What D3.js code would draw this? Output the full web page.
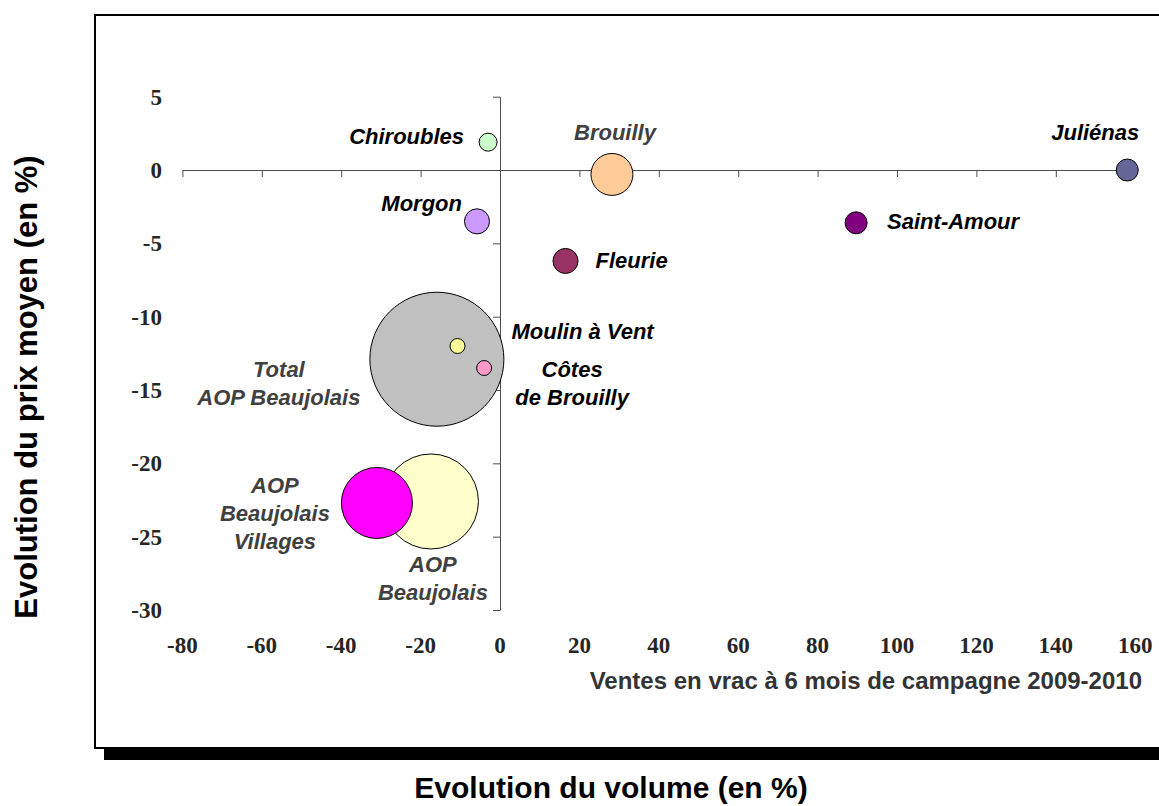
<!DOCTYPE html>
<html>
<head>
<meta charset="utf-8">
<script src="https://cdn.jsdelivr.net/npm/d3@7"></script>
<style>
    body { margin: 0; background: #fff; }
    svg { display: block; }
    .tick-label { font-family: "Liberation Serif", "Times New Roman", serif; font-weight: bold; font-size: 23px; fill: #262626; }
    .bubble-label { font-family: "Liberation Sans", Arial, sans-serif; font-weight: bold; font-style: italic; font-size: 22px; }
    .title { font-family: "Liberation Sans", Arial, sans-serif; font-weight: bold; fill: #000; }
</style>
</head>
<body>
<svg id="chart" width="1159" height="806"></svg>
<script>
// series values
var names = ['Chiroubles', 'Brouilly', 'Juliénas', 'Morgon', 'Saint-Amour', 'Fleurie',
    'Total AOP Beaujolais', 'Moulin à Vent', 'Côtes de Brouilly', 'AOP Beaujolais', 'AOP Beaujolais Villages'];
var volumeChange = [-3.0, 28.2, 158.0, -5.8, 89.7, 16.5, -15.9, -10.7, -4.0, -17.4, -31.0];
var priceChange = [1.9, -0.3, 0.0, -3.5, -3.6, -6.2, -12.9, -12.0, -13.5, -22.6, -22.7];
var bulkShare = [1.8, 9.8, 2.7, 3.5, 2.7, 3.5, 100, 1.25, 1.25, 50.3, 28.1];
var xTicks = [-80, -60, -40, -20, 0, 20, 40, 60, 80, 100, 120, 140, 160];
var yTicks = [5, 0, -5, -10, -15, -20, -25, -30];

var colors = ['#ccffcc', '#ffcc99', '#666699', '#cc99ff', '#800080', '#993366',
    '#c0c0c0', '#ffff99', '#ff99cc', '#ffffcc', '#ff00ff'];

// where each data label sits relative to its bubble
var labelLayout = {
    'Chiroubles':              { lines: ['Chiroubles'], anchor: 'end', dx: -24, dy: 2, fill: '#000' },
    'Brouilly':                { lines: ['Brouilly'], anchor: 'middle', dx: 3, dy: -34, fill: '#404040' },
    'Juliénas':                { lines: ['Juliénas'], anchor: 'end', dx: 12, dy: -30, fill: '#000' },
    'Morgon':                  { lines: ['Morgon'], anchor: 'end', dx: -15, dy: -10, fill: '#000' },
    'Saint-Amour':             { lines: ['Saint-Amour'], anchor: 'start', dx: 31, dy: 6, fill: '#000' },
    'Fleurie':                 { lines: ['Fleurie'], anchor: 'start', dx: 30, dy: 7, fill: '#000' },
    'Total AOP Beaujolais':    { lines: ['Total', 'AOP Beaujolais'], anchor: 'middle', dx: -158, dy: 18, fill: '#404040' },
    'Moulin à Vent':           { lines: ['Moulin à Vent'], anchor: 'start', dx: 54, dy: -7, fill: '#000' },
    'Côtes de Brouilly':       { lines: ['Côtes', 'de Brouilly'], anchor: 'middle', dx: 88, dy: 9, fill: '#000' },
    'AOP Beaujolais':          { lines: ['AOP', 'Beaujolais'], anchor: 'middle', dx: 2, dy: 71, fill: '#404040' },
    'AOP Beaujolais Villages': { lines: ['AOP', 'Beaujolais', 'Villages'], anchor: 'middle', dx: -102, dy: -10, fill: '#404040' }
};

var svg = d3.select('#chart');

// frame with drop shadow
svg.append('rect')
    .attr('x', 104).attr('y', 24)
    .attr('width', 1100).attr('height', 736)
    .attr('fill', '#000');
svg.append('rect')
    .attr('x', 95).attr('y', 15)
    .attr('width', 1100).attr('height', 733)
    .attr('fill', '#fff')
    .attr('stroke', '#000')
    .attr('stroke-width', 2);

var x = d3.scaleLinear().domain([-80, 160]).range([182.4, 1135.2]);
var y = d3.scaleLinear().domain([-30, 5]).range([610, 96.7]);
var r = d3.scaleSqrt().domain([0, 100]).range([0, 67]);

var xAxis = d3.axisBottom(x).tickValues(xTicks).tickSize(7).tickSizeOuter(0).tickFormat('');
var yAxis = d3.axisLeft(y).tickValues(yTicks).tickSize(7).tickSizeOuter(0).tickFormat('');

var gX = svg.append('g')
    .attr('transform', 'translate(0,' + y(0) + ')')
    .call(xAxis);
var gY = svg.append('g')
    .attr('transform', 'translate(' + x(0) + ',0)')
    .call(yAxis);

[gX, gY].forEach(g => {
    g.selectAll('.domain, line').attr('stroke', '#4d4d4d').attr('stroke-width', 1);
});

// tick labels sit at the low side of the plot, away from the crossing axes
svg.append('g').selectAll('text')
    .data(xTicks)
    .join('text')
    .attr('class', 'tick-label')
    .attr('x', d => x(d))
    .attr('y', 653)
    .attr('text-anchor', 'middle')
    .text(d => d);

svg.append('g').selectAll('text')
    .data(yTicks)
    .join('text')
    .attr('class', 'tick-label')
    .attr('x', 162)
    .attr('y', d => y(d) + 8)
    .attr('text-anchor', 'end')
    .text(d => d);

var points = names.map((name, i) => ({
    name: name,
    vx: volumeChange[i],
    vy: priceChange[i],
    size: bulkShare[i],
    color: colors[i]
}));

// biggest bubbles first so the small ones stay visible on top
var drawOrder = points.slice().sort((a, b) => b.size - a.size);

svg.append('g').selectAll('circle')
    .data(drawOrder)
    .join('circle')
    .attr('cx', d => x(d.vx))
    .attr('cy', d => y(d.vy))
    .attr('r', d => r(d.size))
    .attr('fill', d => d.color)
    .attr('stroke', '#000')
    .attr('stroke-width', 1);

var labels = svg.append('g').selectAll('text')
    .data(points)
    .join('text')
    .attr('class', 'bubble-label')
    .attr('text-anchor', d => labelLayout[d.name].anchor)
    .attr('fill', d => labelLayout[d.name].fill);

labels.each(function(d) {
    var lay = labelLayout[d.name];
    var px = x(d.vx) + lay.dx;
    var py = y(d.vy) + lay.dy;
    d3.select(this).selectAll('tspan')
        .data(lay.lines)
        .join('tspan')
        .attr('x', px)
        .attr('y', (t, k) => py + k * 28)
        .text(t => t);
});

svg.append('text')
    .attr('class', 'title')
    .attr('x', 1142)
    .attr('y', 689)
    .attr('text-anchor', 'end')
    .style('font-size', '24px')
    .style('fill', '#333')
    .text('Ventes en vrac à 6 mois de campagne 2009-2010');

svg.append('text')
    .attr('class', 'title')
    .attr('x', 611)
    .attr('y', 798)
    .attr('text-anchor', 'middle')
    .style('font-size', '30px')
    .text('Evolution du volume (en %)');

svg.append('text')
    .attr('class', 'title')
    .attr('transform', 'translate(37,387) rotate(-90)')
    .attr('text-anchor', 'middle')
    .style('font-size', '31px')
    .text('Evolution du prix moyen (en %)');
</script>
</body>
</html>
